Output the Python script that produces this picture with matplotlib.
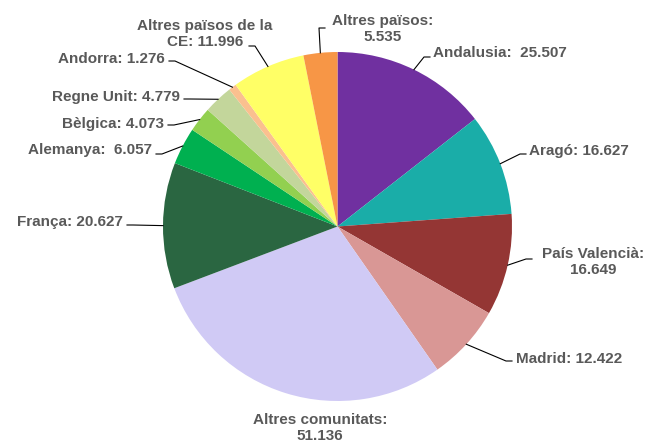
import numpy as np
import matplotlib
matplotlib.use("Agg")
import matplotlib.pyplot as plt

# dades
labels = ["Andalusia:  25.507", "Aragó: 16.627", "País Valencià:\n16.649", "Madrid: 12.422",
          "Altres comunitats:\n51.136", "França: 20.627", "Alemanya:  6.057", "Bèlgica: 4.073",
          "Regne Unit: 4.779", "Andorra: 1.276", "Altres països de la\nCE: 11.996",
          "Altres països:\n5.535"]
values = [25.507, 16.627, 16.649, 12.422, 51.136, 20.627, 6.057, 4.073, 4.779, 1.276, 11.996, 5.535]
colors = ["#7030A0", "#1AADA8", "#943634", "#D99795", "#D0CAF5", "#2A6641",
          "#00B050", "#92D050", "#C3D69B", "#FAC08F", "#FFFF66", "#F79646"]

# posicio de les etiquetes (pixels), alineacio
label_pos = [(433, 53, "left"), (529, 151, "left"), (593, 262, "center"), (516, 359, "left"),
             (320, 428, "center"), (123, 222, "right"), (152, 150, "right"), (164, 124, "right"),
             (180, 97, "right"), (165, 59, "right"), (205, 34, "center"), (383, 29, "center")]
# punt on acaba la linia (pixels)
line_end = [(430, 57), (526, 154), (532, 259), (512, 361), None, (127, 225), (156, 154),
            (168, 125), (184, 99), (169, 61), (249, 46), (325, 28)]

W, H = 649, 441
fig = plt.figure(figsize=(W / 100, H / 100), dpi=100)
ax = fig.add_axes([0, 0, 1, 1])

cx, cy, r = 337.5, H - 226.5, 174.5
wedges, _ = ax.pie(values, colors=colors, startangle=90, counterclock=False,
                   center=(cx, cy), radius=r, frame=True,
                   wedgeprops=dict(linewidth=0))
ax.set_xlim(0, W)
ax.set_ylim(0, H)
ax.set_aspect("equal")
ax.axis("off")

for w, lab, (tx, ty, ha), le in zip(wedges, labels, label_pos, line_end):
    ax.text(tx, H - ty, lab, ha=ha, va="center", fontsize=11, fontweight="bold",
            color="#595959", family="Liberation Sans", linespacing=1.15)
    if le is None:
        continue
    ang = np.deg2rad((w.theta1 + w.theta2) / 2)
    ex, ey = cx + r * np.cos(ang), cy + r * np.sin(ang)
    lx, ly = le[0], H - le[1]
    # petit tram horitzontal al costat del text
    hx = lx + (-6 if lx > ex else 6)
    ax.plot([ex, hx, lx], [ey, ly, ly], color="black", linewidth=0.8)

fig.savefig("out.png", dpi=100)
